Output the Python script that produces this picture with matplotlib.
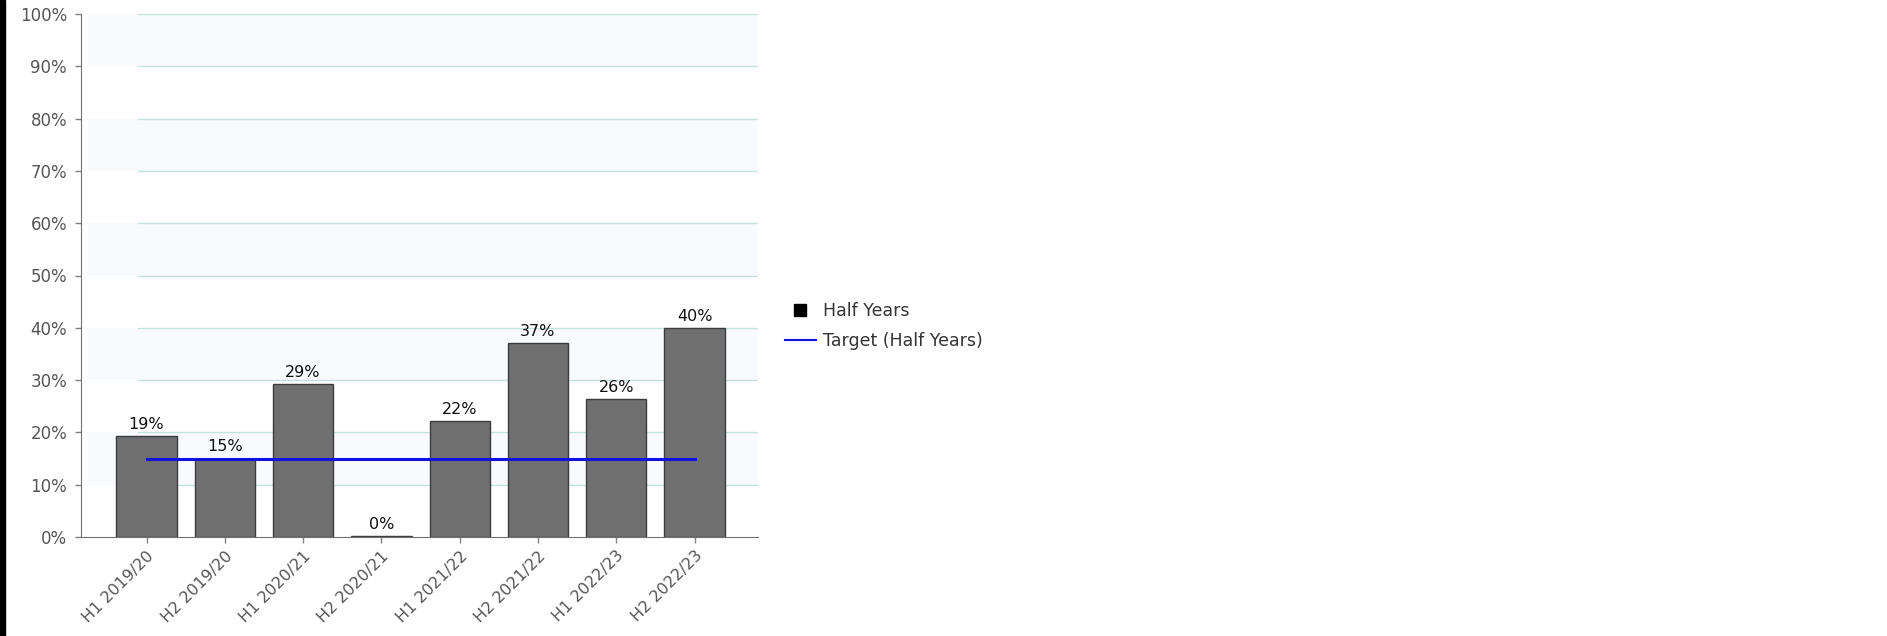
import matplotlib
matplotlib.use("Agg")
import matplotlib.pyplot as plt
from matplotlib.lines import Line2D
from matplotlib.patches import Rectangle
import numpy as np

categories = ["H1 2019/20", "H2 2019/20", "H1 2020/21", "H2 2020/21",
              "H1 2021/22", "H2 2021/22", "H1 2022/23", "H2 2022/23"]
values = [0.193, 0.150, 0.293, 0.002, 0.222, 0.370, 0.263, 0.400]
value_labels = ["19%", "15%", "29%", "0%", "22%", "37%", "26%", "40%"]
target = [0.15] * 8
yticks = [0.0, 0.1, 0.2, 0.3, 0.4, 0.5, 0.6, 0.7, 0.8, 0.9, 1.0]
ytick_labels = ["0%", "10%", "20%", "30%", "40%", "50%", "60%", "70%", "80%", "90%", "100%"]

W, H = 1887, 636
fig = plt.figure(figsize=(W / 100, H / 100), dpi=100)
fig.patch.set_facecolor("white")
ax = fig.add_axes([81 / W, 1 - 537 / H, (758 - 81) / W, (537 - 14) / H])

x = np.arange(len(categories))

# very faint alternating bands
for lo in [0.1, 0.3, 0.5, 0.7, 0.9]:
    ax.axhspan(lo, lo + 0.1, xmin=0.01, xmax=1.0, color="#f9fafd", zorder=0, lw=0)

# gridlines (start a bit right of the axis)
x_lo, x_hi = -0.837, 7.81
for yv in yticks[1:]:
    ax.plot([(138 - 146.5) / 78.3, x_hi], [yv, yv], color="#c3e3e0", lw=1.0, zorder=1)

bars = ax.bar(x, values, width=0.77, color="#6f6f6f", edgecolor="#3c3c3c",
              linewidth=1.0, zorder=2)
for xi, v, lab in zip(x, values, value_labels):
    ax.text(xi, v + 0.008, lab, ha="center", va="bottom", fontsize=11.5,
            color="#111111", zorder=4)

tline, = ax.plot(x, target, color="#1010e0", lw=2.2, zorder=3)

ax.set_xlim(x_lo, x_hi)
ax.set_ylim(0, 1.0)
ax.set_yticks(yticks)
ax.set_yticklabels(ytick_labels, fontsize=12, color="#555555")
ax.set_xticks(x)
ax.set_xticklabels(categories, fontsize=11.5, color="#555555", rotation=45,
                   ha="right", rotation_mode="anchor")
ax.tick_params(axis="both", length=4, color="#808080", width=1)
ax.tick_params(axis="y", pad=6)
ax.tick_params(axis="x", pad=4)
for s in ["top", "right"]:
    ax.spines[s].set_visible(False)
ax.spines["left"].set_color("#707070")
ax.spines["bottom"].set_color("#707070")
ax.set_facecolor("white")

handles = [Line2D([], [], marker="s", color="black", linestyle="none", markersize=9),
           Line2D([], [], color="#1010e0", lw=1.5)]
leg = fig.legend(handles, ["Half Years", "Target (Half Years)"],
                 loc="upper left", bbox_to_anchor=(776 / W, 1 - 293 / H),
                 frameon=False, fontsize=12.5, handlelength=1.8,
                 handletextpad=0.4, labelspacing=0.7, borderpad=0)
for t in leg.get_texts():
    t.set_color("#333333")

# left black border
fig.patches.append(Rectangle((0, 0), 5 / W, 1, transform=fig.transFigure,
                             color="black", zorder=10))

fig.savefig("out.png", dpi=100)
